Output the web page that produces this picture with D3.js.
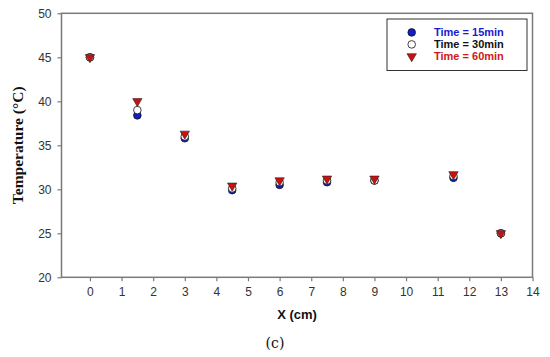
<!DOCTYPE html>
<html>
<head>
<meta charset="utf-8">
<script src="https://cdn.jsdelivr.net/npm/d3@7"></script>
<style>
  body { margin: 0; background: #fff; }
  svg { display: block; }
</style>
</head>
<body>
<div class="container"></div>
<script>
// data
var xPos = [0, 1.5, 3, 4.5, 6, 7.5, 9, 11.5, 13];
var t15 = [45, 38.4, 35.8, 29.9, 30.5, 30.8, 31.0, 31.3, 25.0];
var t30 = [45, 39.0, 36.0, 30.1, 30.8, 31.0, 31.0, 31.5, 25.0];
var t60 = [45, 40.0, 36.3, 30.4, 31.0, 31.2, 31.2, 31.7, 25.0];
var seriesNames = ["Time = 15min", "Time = 30min", "Time = 60min"];
var xTicks = [0, 1, 2, 3, 4, 5, 6, 7, 8, 9, 10, 11, 12, 13, 14];
var yTicks = [20, 25, 30, 35, 40, 45, 50];

// canvas
var W = 550, H = 357;
var plotL = 61.5, plotR = 532.5, plotT = 13.3, plotB = 277.3;

var svg = d3.select(".container")
            .append("svg")
            .attr("width", W)
            .attr("height", H);

var x = d3.scaleLinear().domain([-0.9, 14]).range([plotL, plotR]);
var y = d3.scaleLinear().domain([20, 50]).range([plotB, plotT]);

var axisColor = "#7a7a7a";

// frame
svg.append("rect")
   .attr("x", plotL).attr("y", plotT)
   .attr("width", plotR - plotL).attr("height", plotB - plotT)
   .attr("fill", "none")
   .attr("stroke", axisColor)
   .attr("stroke-width", 1.5);

// axes
var xAxis = d3.axisBottom(x).tickValues(xTicks).tickSize(4).tickSizeOuter(0).tickPadding(6);
var yAxis = d3.axisLeft(y).tickValues(yTicks).tickSize(4).tickSizeOuter(0).tickPadding(6);

var gx = svg.append("g")
   .attr("transform", "translate(0," + plotB + ")")
   .call(xAxis);
var gy = svg.append("g")
   .attr("transform", "translate(" + plotL + ",0)")
   .call(yAxis);

[gx, gy].forEach(function(g) {
  g.select(".domain").remove();
  g.selectAll("line").attr("stroke", axisColor).attr("stroke-width", 1.2);
  g.selectAll("text")
   .attr("fill", "#333")
   .style("font-family", "Liberation Sans, Arial, sans-serif")
   .style("font-size", "12px");
});

// axis titles
svg.append("text")
   .attr("transform", "translate(23," + ((plotT + plotB) / 2) + ") rotate(-90)")
   .attr("text-anchor", "middle")
   .style("font-family", "Liberation Serif, Times New Roman, serif")
   .style("font-weight", "bold")
   .style("font-size", "15.5px")
   .attr("fill", "#111")
   .text("Temperature (°C)");

svg.append("text")
   .attr("x", 297).attr("y", 319)
   .attr("text-anchor", "middle")
   .style("font-family", "Liberation Sans, Arial, sans-serif")
   .style("font-weight", "bold")
   .style("font-size", "13px")
   .attr("fill", "#111")
   .text("X (cm)");

svg.append("text")
   .attr("x", 275).attr("y", 348)
   .attr("text-anchor", "middle")
   .style("font-family", "DejaVu Serif, serif")
   .style("font-size", "14px")
   .attr("fill", "#111")
   .text("(c)");

// marker drawing
var tri = d3.symbol().type(d3.symbolTriangle).size(38);

function drawCircles(vals, fill) {
  svg.append("g").selectAll("circle")
     .data(xPos)
     .enter()
     .append("circle")
     .attr("cx", function(d) { return x(d); })
     .attr("cy", function(d, i) { return y(vals[i]); })
     .attr("r", 3.8)
     .attr("fill", fill)
     .attr("stroke", "#111")
     .attr("stroke-width", 0.8);
}
drawCircles(t15, "#1020c8");
drawCircles(t30, "#ffffff");

svg.append("g").selectAll("path")
   .data(xPos)
   .enter()
   .append("path")
   .attr("d", tri)
   .attr("transform", function(d, i) { return "translate(" + x(d) + "," + y(t60[i]) + ") rotate(180)"; })
   .attr("fill", "#cc1010")
   .attr("stroke", "#222")
   .attr("stroke-width", 0.6);

// legend
var legend = svg.append("g");
legend.append("rect")
   .attr("x", 387).attr("y", 19)
   .attr("width", 140).attr("height", 51.5)
   .attr("fill", "#fff")
   .attr("stroke", "#333")
   .attr("stroke-width", 1);

var legColors = ["#1a1ad0", "#111", "#d01818"];
var legY = [32.4, 44.4, 56.4];
seriesNames.forEach(function(name, i) {
  var mx = 411.7, my = legY[i];
  if (i < 2) {
    legend.append("circle")
      .attr("cx", mx).attr("cy", my).attr("r", 3.8)
      .attr("fill", i == 0 ? "#1020c8" : "#fff")
      .attr("stroke", "#111").attr("stroke-width", 0.8);
  } else {
    legend.append("path")
      .attr("d", tri)
      .attr("transform", "translate(" + mx + "," + my + ") rotate(180)")
      .attr("fill", "#cc1010")
      .attr("stroke", "#222").attr("stroke-width", 0.6);
  }
  legend.append("text")
    .attr("x", 434).attr("y", my)
    .attr("dy", "0.35em")
    .style("font-family", "Liberation Sans, Arial, sans-serif")
    .style("font-weight", "bold")
    .style("font-size", "11px")
    .attr("fill", legColors[i])
    .text(name);
});
</script>
</body>
</html>
